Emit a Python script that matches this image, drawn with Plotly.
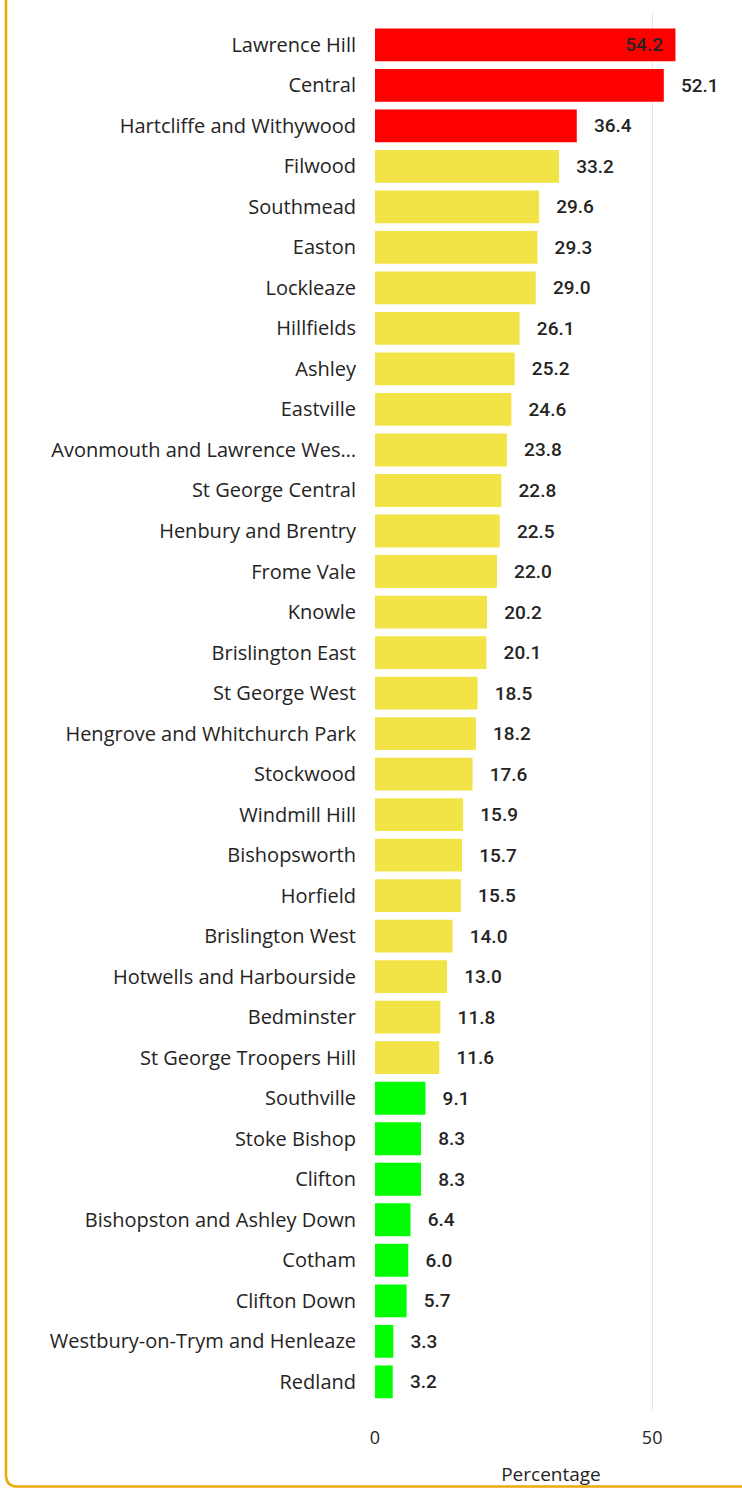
import plotly.graph_objects as go

wards = [
    "Lawrence Hill", "Central", "Hartcliffe and Withywood", "Filwood", "Southmead",
    "Easton", "Lockleaze", "Hillfields", "Ashley", "Eastville",
    "Avonmouth and Lawrence Wes…", "St George Central", "Henbury and Brentry",
    "Frome Vale", "Knowle", "Brislington East", "St George West",
    "Hengrove and Whitchurch Park", "Stockwood", "Windmill Hill", "Bishopsworth",
    "Horfield", "Brislington West", "Hotwells and Harbourside", "Bedminster",
    "St George Troopers Hill", "Southville", "Stoke Bishop", "Clifton",
    "Bishopston and Ashley Down", "Cotham", "Clifton Down",
    "Westbury-on-Trym and Henleaze", "Redland",
]
percentages = [
    54.2, 52.1, 36.4, 33.2, 29.6, 29.3, 29.0, 26.1, 25.2, 24.6,
    23.8, 22.8, 22.5, 22.0, 20.2, 20.1, 18.5, 18.2, 17.6, 15.9,
    15.7, 15.5, 14.0, 13.0, 11.8, 11.6, 9.1, 8.3, 8.3, 6.4,
    6.0, 5.7, 3.3, 3.2,
]
bands = [
    "high", "high", "high", "mid", "mid", "mid", "mid", "mid", "mid", "mid",
    "mid", "mid", "mid", "mid", "mid", "mid", "mid", "mid", "mid", "mid",
    "mid", "mid", "mid", "mid", "mid", "mid", "low", "low", "low", "low",
    "low", "low", "low", "low",
]
band_colors = {"high": "#FF0000", "mid": "#F2E346", "low": "#00FF00"}

W, H = 742, 1493
ml, mr, mt, mb = 375, 15, 12, 75

colors = [band_colors[b] for b in bands]
positions = ["inside" if i == 0 else "outside" for i in range(len(wards))]
texts = []
for i, v in enumerate(percentages):
    if positions[i] == "inside":
        texts.append(f"{v:.1f}\u00a0\u00a0")
    else:
        texts.append(f"\u00a0\u00a0\u00a0{v:.1f}")

label_font = dict(family="Roboto, sans-serif", size=19, weight=500, color="#252423")

fig = go.Figure(go.Bar(
    x=percentages,
    y=wards,
    orientation="h",
    marker=dict(color=colors, line=dict(width=0)),
    text=texts,
    textposition=positions,
    insidetextanchor="end",
    textfont=label_font,
    insidetextfont=label_font,
    outsidetextfont=label_font,
    cliponaxis=False,
    width=0.81,
    hoverinfo="x+y",
))

# decorative container border (left + bottom, rounded corner)
pw = W - ml - mr
ph = H - mt - mb
def px(xp):
    return (xp - ml) / pw
def py(yp):
    return (H - mb - yp) / ph
r = 12
bottom = 1494
path = (f"M {px(6)} {py(0)} L {px(6)} {py(bottom - r)} "
        f"Q {px(6)} {py(bottom)} {px(6 + r)} {py(bottom)} L {px(742)} {py(bottom)}")
fig.add_shape(type="path", xref="paper", yref="paper", path=path,
              line=dict(color="#F0A800", width=2.5), layer="above")

fig.update_layout(
    width=W, height=H,
    margin=dict(l=ml, r=mr, t=mt, b=mb),
    paper_bgcolor="white", plot_bgcolor="white",
    showlegend=False,
    font=dict(family="Open Sans, Noto Sans, sans-serif", color="#252423"),
    xaxis=dict(
        range=[0, 63.5], tickvals=[0, 50], ticktext=["0", "50"],
        showgrid=True, gridcolor="#E6E6E6", gridwidth=1,
        zeroline=False, showline=False,
        tickfont=dict(size=18, color="#252423"),
        title=dict(text="Percentage", font=dict(size=19, color="#252423"), standoff=19),
        ticks="", ticklabelstandoff=14,
    ),
    yaxis=dict(
        type="category", range=[33.72, -0.81],
        showgrid=False, zeroline=False, showline=False, ticks="",
        tickfont=dict(size=20, color="#252423"),
        ticklabelstandoff=18,
    ),
)

fig.write_html("out.html", config={"displayModeBar": False},
               post_script="document.body.style.margin='0';")
